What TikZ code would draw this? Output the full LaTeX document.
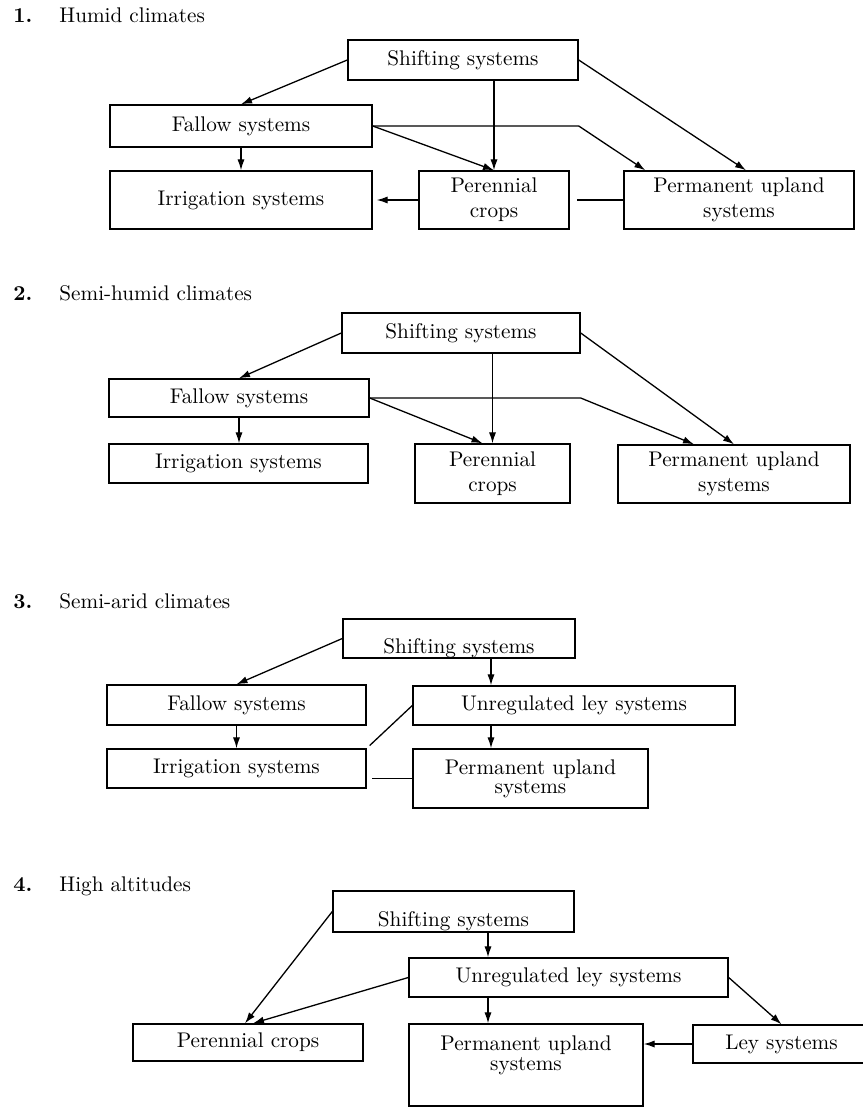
\documentclass[tikz,border=0pt]{standalone}
\usetikzlibrary{arrows.meta,calc}

\begin{document}
\begin{tikzpicture}[x=0.5pt,y=-0.5pt]
\tikzset{box/.style={draw,line width=0.7pt,font=\fontsize{10.6}{12.5}\selectfont,align=center,inner sep=0pt}}
\tikzset{arr/.style={-{Latex[length=5.5pt,width=3.6pt]},line width=0.65pt}}
\tikzset{lnk/.style={line width=0.65pt}}
\tikzset{ttl/.style={font=\fontsize{10.6}{12.5}\selectfont,anchor=base west,inner sep=0pt}}
\useasboundingbox (0,0) rectangle (862,1112);

% Panel 1: humid climates
\node[ttl] (t1) at (13,23) {\makebox[23pt][l]{\textbf{1.}}Humid climates};
\node[box,minimum width=115pt,minimum height=20pt] (s1) at (463,60) {Shifting systems};
\node[box,minimum width=131pt,minimum height=21pt] (f1) at (241,126) {Fallow systems};
\node[box,minimum width=131pt,minimum height=29pt] (i1) at (241,200) {Irrigation systems};
\node[box,minimum width=75pt,minimum height=29pt] (p1) at (494,200) {Perennial\\crops};
\node[box,minimum width=115pt,minimum height=29pt] (u1) at (739,200) {Permanent upland\\systems};
\draw[arr] (s1.west) -- (f1.north);
\draw[arr] (s1.south -| p1.north) -- (p1.north);
\draw[arr] (s1.east) -- ([xshift=3.5pt]u1.north);
\draw[arr] (f1.east) -- (p1.north);
\draw[arr] (f1.east) -- (f1.east -| s1.east) -- ([xshift=11pt]u1.north west);
\draw[arr] (f1.south) -- (i1.north);
\draw[arr,shorten >=2pt] (p1.west) -- (i1.east);
\draw[lnk] (u1.west) -- ([xshift=3.5pt]p1.east);

% Panel 2: semi-humid climates
\node[ttl] (t2) at (13,300) {\makebox[23pt][l]{\textbf{2.}}Semi-humid climates};
\node[box,minimum width=119pt,minimum height=20pt] (s2) at (461,333) {Shifting systems};
\node[box,minimum width=130pt,minimum height=19pt] (f2) at (239,398) {Fallow systems};
\node[box,minimum width=129.5pt,minimum height=19.5pt] (i2) at (238.5,463.5) {Irrigation systems};
\node[box,minimum width=77.5pt,minimum height=29.5pt] (p2) at (492.5,473.5) {Perennial\\crops};
\node[box,minimum width=116pt,minimum height=29pt] (u2) at (734,474) {Permanent upland\\systems};
\draw[arr] (s2.west) -- (f2.north);
\draw[arr] (s2.south -| p2.north) -- (p2.north);
\draw[arr] (s2.east) -- (u2.north);
\draw[arr] (f2.east) -- ([xshift=-5pt]p2.north);
\draw[arr] (f2.east) -- (f2.east -| s2.east) -- ([xshift=-20pt]u2.north);
\draw[arr] (f2.south) -- (f2.south |- i2.north);

% Panel 3: semi-arid climates
\node[ttl] (t3) at (13,608) {\makebox[23pt][l]{\textbf{3.}}Semi-arid climates};
\node[box,minimum width=116pt,minimum height=19.5pt,text height=14.5pt,text depth=0pt] (s3) at (459,638.5) {Shifting systems};
\node[box,minimum width=129.5pt,minimum height=20pt] (f3) at (236.5,705) {Fallow systems};
\node[box,minimum width=129.5pt,minimum height=19.5pt] (i3) at (236.5,768.5) {Irrigation systems};
\node[box,minimum width=161pt,minimum height=19.5pt] (r3) at (574,705.5) {Unregulated ley systems};
\node[box,minimum width=117.5pt,minimum height=29.5pt] (u3) at (530.5,778.5) {Permanent upland\\[-3pt]systems};
\coordinate (k3) at (491,700);
\draw[arr] (s3.west) -- (f3.north);
\draw[arr] (s3.south -| k3) -- (r3.north -| k3);
\draw[arr] (r3.south -| k3) -- (u3.north -| k3);
\draw[arr] (f3.south) -- (i3.north);
\draw[lnk,shorten <=2pt] (i3.north east) -- (r3.west);
\draw[lnk,shorten >=2.5pt] (u3.west) -- (u3.west -| i3.east);

% Panel 4: high altitudes
\node[ttl] (t4) at (13,891) {\makebox[23pt][l]{\textbf{4.}}High altitudes};
\node[box,minimum width=120.5pt,minimum height=20.5pt,text height=14.5pt,text depth=0pt] (s4) at (453.5,911.5) {Shifting systems};
\node[box,minimum width=159.5pt,minimum height=19.5pt] (r4) at (568.5,977.5) {Unregulated ley systems};
\node[box,minimum width=115pt,minimum height=18.5pt] (p4) at (248,1042.5) {Perennial crops};
\node[box,minimum width=117pt,minimum height=41pt,text height=12.5pt,text depth=7.5pt] (u4) at (526,1065) {Permanent upland\\[-2.5pt]systems};
\node[box,minimum width=88.5pt,minimum height=19pt] (l4) at (781.5,1044) {Ley systems};
\coordinate (k4) at (488,960);
\draw[arr] (s4.west) -- ([xshift=-1.5pt]p4.north);
\draw[arr] (r4.west) -- ([xshift=2.5pt]p4.north);
\draw[arr] (s4.south -| k4) -- (r4.north -| k4);
\draw[arr] (r4.south -| k4) -- (u4.north -| k4);
\draw[arr] (r4.east) -- (l4.north);
\draw[arr] (l4.west) -- (l4.west -| u4.east);
\end{tikzpicture}
\end{document}
